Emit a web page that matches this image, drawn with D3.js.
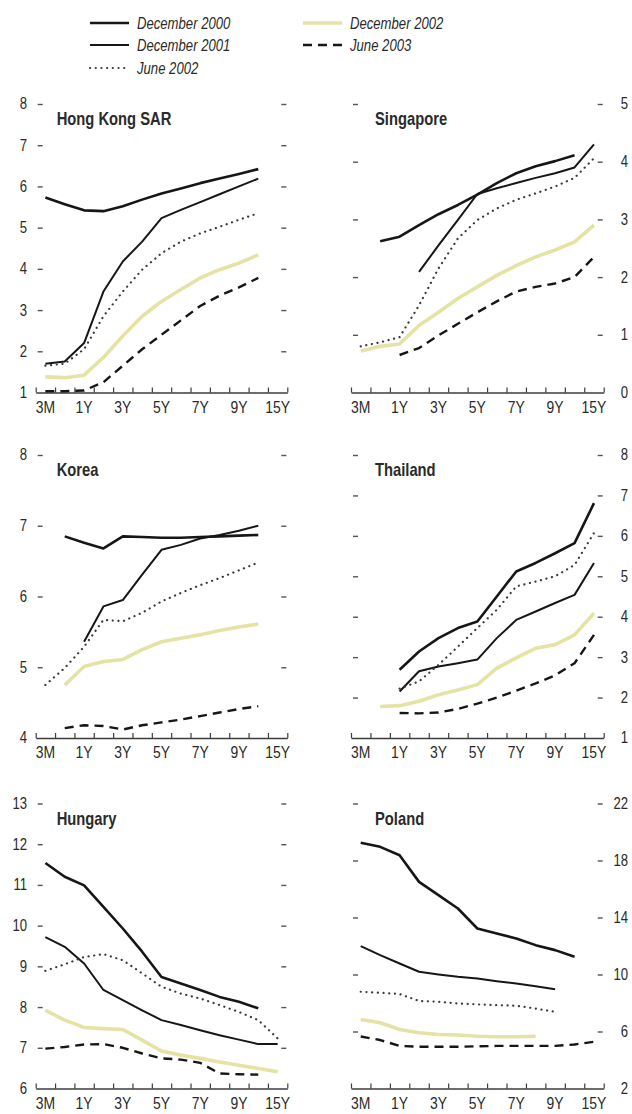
<!DOCTYPE html>
<html>
<head>
<meta charset="utf-8">
<script src="https://cdn.jsdelivr.net/npm/d3@7"></script>
<style>
  html, body { margin: 0; padding: 0; background: #fff; }
  svg { display: block; }
  text { font-family: "Liberation Sans", Arial, sans-serif; fill: #2a2a2a; }
</style>
</head>
<body>
<svg id="chart" width="632" height="1114"></svg>
<script>
// Maturity buckets along the x axis and the ones that get a label
const maturities = ["3M","6M","1Y","2Y","3Y","4Y","5Y","6Y","7Y","8Y","9Y","10Y","15Y"];
const maturityLabels = ["3M","1Y","3Y","5Y","7Y","9Y","15Y"];
const seriesNames = ["December 2000","December 2001","June 2002","December 2002","June 2003"];

// Hong Kong SAR yields (percent)
const hkDec00 = [5.73,5.57,5.42,5.40,5.52,5.68,5.83,5.95,6.08,6.19,6.30,6.42,null];
const hkDec01 = [1.70,1.75,2.20,3.45,4.18,4.66,5.23,5.43,5.62,5.81,6.00,6.19,null];
const hkJun02 = [1.65,1.70,2.05,2.85,3.45,3.98,4.38,4.66,4.86,5.02,5.19,5.35,null];
const hkDec02 = [1.38,1.36,1.42,1.85,2.37,2.85,3.21,3.50,3.78,3.98,4.14,4.34,null];
const hkJun03 = [1.03,1.03,1.05,1.25,1.65,2.05,2.40,2.75,3.10,3.35,3.55,3.78,null];
const hkTicks = [1,2,3,4,5,6,7,8];

// Singapore
const sgDec00 = [null,2.62,2.70,2.90,3.09,3.25,3.43,3.63,3.80,3.92,4.01,4.11,null];
const sgDec01 = [null,null,null,2.09,2.55,2.99,3.44,3.54,3.63,3.72,3.80,3.90,4.30];
const sgJun02 = [0.80,0.87,0.96,1.51,2.15,2.67,2.99,3.19,3.34,3.45,3.57,3.72,4.06];
const sgDec02 = [0.72,0.80,0.84,1.16,1.39,1.63,1.83,2.03,2.20,2.35,2.47,2.61,2.90];
const sgJun03 = [null,null,0.65,0.77,0.99,1.19,1.39,1.58,1.75,1.83,1.89,2.00,2.35];
const sgTicks = [0,1,2,3,4,5];

// Korea
const krDec00 = [null,6.85,6.76,6.68,6.85,6.84,6.83,6.83,6.84,6.85,6.86,6.87,null];
const krDec01 = [null,null,5.36,5.86,5.95,6.31,6.66,6.73,6.82,6.87,6.93,7.00,null];
const krJun02 = [4.75,4.99,5.29,5.67,5.65,5.77,5.93,6.05,6.16,6.26,6.37,6.48,null];
const krDec02 = [null,4.75,5.01,5.08,5.11,5.25,5.36,5.41,5.46,5.52,5.57,5.61,null];
const krJun03 = [null,4.14,4.18,4.17,4.12,4.18,4.22,4.26,4.31,4.36,4.41,4.45,null];
const krTicks = [4,5,6,7,8];

// Thailand
const thDec00 = [null,null,2.69,3.14,3.47,3.72,3.88,4.50,5.12,5.33,5.57,5.82,6.81];
const thDec01 = [null,null,2.15,2.65,2.77,2.85,2.94,3.47,3.92,4.13,4.34,4.54,5.33];
const thJun02 = [null,null,2.22,2.40,2.81,3.26,3.72,4.17,4.75,4.87,5.00,5.28,6.07];
const thDec02 = [null,1.78,1.80,1.91,2.07,2.19,2.32,2.73,2.98,3.22,3.31,3.55,4.09];
const thJun03 = [null,null,1.62,1.61,1.63,1.72,1.85,2.00,2.17,2.35,2.55,2.85,3.55];
const thTicks = [1,2,3,4,5,6,7,8];

// Hungary
const huDec00 = [11.54,11.20,10.99,10.46,9.93,9.36,8.74,8.58,8.42,8.25,8.13,7.97,null];
const huDec01 = [9.72,9.48,9.07,8.42,8.17,7.92,7.68,7.56,7.43,7.31,7.20,7.09,7.09];
const huJun02 = [8.89,9.05,9.23,9.30,9.15,8.83,8.50,8.33,8.21,8.05,7.88,7.68,7.23];
const huDec02 = [7.92,7.68,7.50,7.47,7.45,7.19,6.92,6.82,6.74,6.65,6.57,6.49,6.41];
const huJun03 = [6.98,7.02,7.08,7.09,7.00,6.86,6.74,6.71,6.63,6.37,6.35,6.34,null];
const huTicks = [6,7,8,9,10,11,12,13];

// Poland
const plDec00 = [19.24,18.96,18.37,16.50,15.57,14.63,13.23,12.88,12.53,12.06,11.71,11.24,null];
const plDec01 = [11.99,11.36,10.77,10.19,10.00,9.84,9.72,9.53,9.37,9.18,8.97,null,null];
const plJun02 = [8.79,8.72,8.63,8.14,8.09,7.97,7.90,7.85,7.81,7.61,7.38,null,null];
const plDec02 = [6.84,6.61,6.14,5.91,5.79,5.75,5.67,5.63,5.63,5.67,null,null,null];
const plJun03 = [5.65,5.40,4.99,4.93,4.93,4.93,4.96,4.99,4.99,4.99,4.99,5.09,5.28];
const plTicks = [2,6,10,14,18,22];

// Line styles for each series (same order as seriesNames)
const styles = [
  { stroke: "#161616", width: 2.6, dash: null, cap: "butt" },
  { stroke: "#161616", width: 2.0, dash: null, cap: "butt" },
  { stroke: "#3a3a3a", width: 2.2, dash: "0.1,5.6", cap: "round" },
  { stroke: "#e5e3a4", width: 3.6, dash: null, cap: "butt" },
  { stroke: "#161616", width: 2.4, dash: "9,6", cap: "butt" }
];

const panels = [
  { title: "Hong Kong SAR", col: 0, row: 0, ticks: hkTicks, series: [hkDec00,hkDec01,hkJun02,hkDec02,hkJun03] },
  { title: "Singapore",     col: 1, row: 0, ticks: sgTicks, series: [sgDec00,sgDec01,sgJun02,sgDec02,sgJun03] },
  { title: "Korea",         col: 0, row: 1, ticks: krTicks, series: [krDec00,krDec01,krJun02,krDec02,krJun03] },
  { title: "Thailand",      col: 1, row: 1, ticks: thTicks, series: [thDec00,thDec01,thJun02,thDec02,thJun03] },
  { title: "Hungary",       col: 0, row: 2, ticks: huTicks, series: [huDec00,huDec01,huJun02,huDec02,huJun03] },
  { title: "Poland",        col: 1, row: 2, ticks: plTicks, series: [plDec00,plDec01,plJun02,plDec02,plJun03] }
];

const cols = [{ x0: 35.7, x1: 287.3, labelX: 27, anchor: "end" },
              { x0: 351, x1: 603.7, labelX: 628, anchor: "end" }];
const rows = [{ top: 104, bottom: 392.5 }, { top: 455, bottom: 738 }, { top: 803.5, bottom: 1088.5 }];

// Narrow face: Liberation Sans squeezed horizontally about its anchor point
const NARROW = 0.82;
function narrow(sel) {
  sel.each(function () {
    const t = d3.select(this);
    const x = +t.attr("x") || 0, y = +t.attr("y") || 0;
    t.attr("x", 0).attr("y", 0)
     .attr("transform", `translate(${x},${y}) scale(${NARROW},1)`);
  });
}

const svg = d3.select("#chart");

// Legend
const legend = svg.append("g");
const legendItems = [
  { i: 0, lx: 90, ly: 23, tx: 137 },
  { i: 1, lx: 90, ly: 45, tx: 137 },
  { i: 2, lx: 90, ly: 68, tx: 137 },
  { i: 3, lx: 303, ly: 23, tx: 350 },
  { i: 4, lx: 303, ly: 45, tx: 350 }
];
legendItems.forEach(d => {
  const s = styles[d.i];
  legend.append("line")
    .attr("x1", d.lx).attr("x2", d.lx + 39)
    .attr("y1", d.ly).attr("y2", d.ly)
    .attr("stroke", s.stroke).attr("stroke-width", s.width)
    .attr("stroke-linecap", s.cap)
    .attr("stroke-dasharray", s.dash);
  legend.append("text")
    .attr("x", d.tx).attr("y", d.ly).attr("dy", "0.36em")
    .attr("font-size", 16).attr("font-style", "italic")
    .text(seriesNames[d.i])
    .call(narrow);
});

panels.forEach(p => {
  const c = cols[p.col], r = rows[p.row];
  const g = svg.append("g");
  const x = d3.scaleBand().domain(maturities).range([c.x0, c.x1]);
  const y = d3.scaleLinear().domain(d3.extent(p.ticks)).range([r.bottom, r.top]);
  const bw = x.bandwidth();

  // Bottom axis: baseline with a tick at each bucket boundary
  const edges = d3.scaleLinear().domain([0, maturities.length]).range([c.x0, c.x1]);
  const edgeAxis = g.append("g")
    .attr("transform", `translate(0,${r.bottom})`)
    .call(d3.axisTop(edges).tickValues(d3.range(maturities.length + 1)).tickSize(5).tickSizeOuter(0).tickFormat(""));
  edgeAxis.select(".domain").attr("stroke", "#3c3c3c").attr("stroke-width", 1.4);
  edgeAxis.selectAll(".tick line").attr("stroke", "#3c3c3c").attr("stroke-width", 1.2);

  // Bucket labels
  const labelAxis = g.append("g")
    .attr("transform", `translate(0,${r.bottom})`)
    .call(d3.axisBottom(x).tickValues(maturityLabels).tickSize(0).tickPadding(8));
  labelAxis.select(".domain").remove();
  labelAxis.selectAll("text").attr("font-size", 17).attr("font-family", null).attr("fill", "#2a2a2a")
    .call(narrow);

  // Y axes: short inward ticks on both sides (none at the baseline)
  const upper = p.ticks.slice(1);
  const la = g.append("g").attr("transform", `translate(${c.x0 + 2},0)`)
    .call(d3.axisLeft(y).tickValues(upper).tickSize(-5).tickSizeOuter(0).tickFormat(""));
  const ra = g.append("g").attr("transform", `translate(${c.x1 - 1},0)`)
    .call(d3.axisRight(y).tickValues(upper).tickSize(-5).tickSizeOuter(0).tickFormat(""));
  [la, ra].forEach(a => {
    a.select(".domain").remove();
    a.selectAll(".tick line").attr("stroke", "#555").attr("stroke-width", 1.4);
  });

  // Value labels on the outer side of the panel
  g.append("g").selectAll("text")
    .data(p.ticks)
    .join("text")
    .attr("x", c.labelX)
    .attr("y", d => y(d))
    .attr("dy", "0.34em")
    .attr("text-anchor", c.anchor)
    .attr("font-size", 16)
    .text(d3.format("d"))
    .call(narrow);

  // Panel title
  g.append("text")
    .attr("x", c.x0 + (p.col === 0 ? 21 : 24)).attr("y", r.top + 21)
    .attr("font-size", 18).attr("font-weight", "bold")
    .text(p.title)
    .call(narrow);

  // Curves: pale series first so the dark ones sit on top
  const line = d3.line()
    .defined(d => d != null)
    .x((d, i) => x(maturities[i]) + bw / 2)
    .y(d => y(d));
  [3, 0, 1, 2, 4].forEach(si => {
    const s = styles[si];
    g.append("path")
      .datum(p.series[si])
      .attr("d", line)
      .attr("fill", "none")
      .attr("stroke", s.stroke)
      .attr("stroke-width", s.width)
      .attr("stroke-linejoin", "round")
      .attr("stroke-linecap", s.cap)
      .attr("stroke-dasharray", s.dash);
  });
});
</script>
</body>
</html>
